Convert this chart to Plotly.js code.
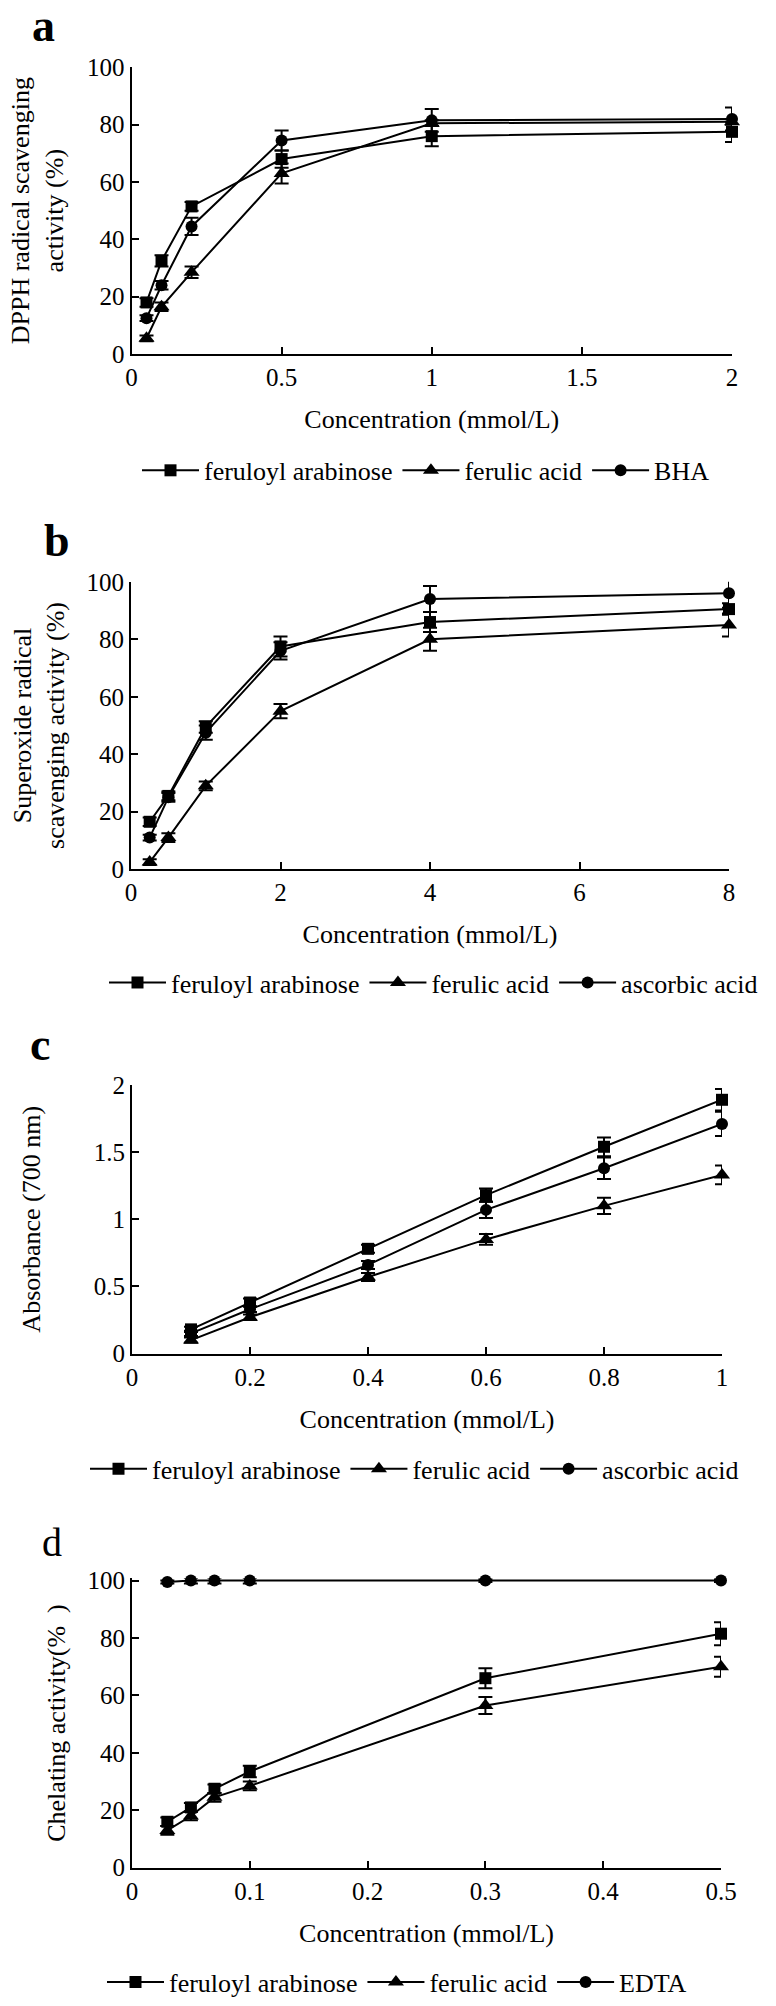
<!DOCTYPE html>
<html>
<head>
<meta charset="utf-8">
<script src="https://cdn.plot.ly/plotly-3.0.1.min.js"></script>
<style>html,body{margin:0;padding:0;background:#fff;}#chart{width:776px;height:2006px;}</style>
</head>
<body>
<div id="chart"></div>
<script>
// ---------- DATA ----------
// Panel a: DPPH radical scavenging
const xA = [0.05, 0.1, 0.2, 0.5, 1, 2];
const faA = [18, 32.5, 51.5, 68, 76, 77.5];
const faAErr = [1.5, 2, 1.5, 3, 3.5, 3.5];
const ferA = [5.5, 16.5, 28.5, 63, 80.5, 81];
const ferAErr = [1, 1.5, 2, 3.5, 1, 1];
const bhaA = [12.5, 24, 44.5, 74.5, 81.5, 82];
const bhaAErr = [1, 1.5, 3, 3.5, 4, 4];

// Panel b: Superoxide radical scavenging
const xB = [0.25, 0.5, 1, 2, 4, 8];
const faB = [16.5, 25.5, 49.5, 77.5, 86, 90.5];
const faBErr = [1.5, 1.5, 2, 3.5, 3.5, 2];
const ferB = [2.5, 11, 29, 55, 80, 85];
const ferBErr = [1, 1.5, 1.5, 2.5, 4, 4];
const ascB = [11, 25, 47.5, 76, 94, 96];
const ascBErr = [1, 1.5, 2.5, 3, 4.5, 5];

// Panel c: Reducing power (absorbance 700 nm)
const xC = [0.1, 0.2, 0.4, 0.6, 0.8, 1];
const faC = [0.18, 0.38, 0.78, 1.18, 1.54, 1.89];
const faCErr = [0.02, 0.03, 0.03, 0.05, 0.07, 0.08];
const ferC = [0.1, 0.27, 0.57, 0.85, 1.1, 1.33];
const ferCErr = [0.02, 0.02, 0.03, 0.04, 0.06, 0.07];
const ascC = [0.15, 0.33, 0.66, 1.07, 1.38, 1.71];
const ascCErr = [0.02, 0.02, 0.03, 0.06, 0.08, 0.09];

// Panel d: Chelating activity
const xD = [0.03, 0.05, 0.07, 0.1, 0.3, 0.5];
const faD = [16, 21, 27.5, 33.5, 66, 81.5];
const faDErr = [1.5, 1.5, 1.5, 2, 3.5, 4];
const ferD = [13, 18, 24.5, 28.5, 56.5, 70];
const ferDErr = [1.5, 1.5, 1.5, 1.5, 3, 3.5];
const edtaD = [99.5, 100, 100, 100, 100, 100];
const edtaDErr = [0.5, 1, 1, 1, 0.5, 0.5];

const nameFA = "feruloyl arabinose";
const nameFer = "ferulic acid";
const nameBHA = "BHA";
const nameAsc = "ascorbic acid";
const nameEDTA = "EDTA";

// ---------- STYLE / LAYOUT ----------
const W = 776, H = 2006;
const FONT = "Liberation Serif, serif";
const px2x = p => p / W;
const px2y = p => 1 - p / H;

function tr(x, y, err, name, symbol, size, xa, ya, leg) {
  return {
    type: "scatter", mode: "lines+markers", x: x, y: y, name: name,
    xaxis: xa, yaxis: ya, legend: leg, cliponaxis: false,
    line: {color: "#000", width: 2},
    marker: {symbol: symbol, size: size, color: "#000"},
    error_y: {type: "data", array: err, visible: true, color: "#000", thickness: 2, width: 7}
  };
}

const traces = [
  tr(xA, faA, faAErr, nameFA, "square", 12, "x", "y", "legend"),
  tr(xA, ferA, ferAErr, nameFer, "triangle-up", 14, "x", "y", "legend"),
  tr(xA, bhaA, bhaAErr, nameBHA, "circle", 12, "x", "y", "legend"),
  tr(xB, faB, faBErr, nameFA, "square", 12, "x2", "y2", "legend2"),
  tr(xB, ferB, ferBErr, nameFer, "triangle-up", 14, "x2", "y2", "legend2"),
  tr(xB, ascB, ascBErr, nameAsc, "circle", 12, "x2", "y2", "legend2"),
  tr(xC, faC, faCErr, nameFA, "square", 12, "x3", "y3", "legend3"),
  tr(xC, ferC, ferCErr, nameFer, "triangle-up", 14, "x3", "y3", "legend3"),
  tr(xC, ascC, ascCErr, nameAsc, "circle", 12, "x3", "y3", "legend3"),
  tr(xD, faD, faDErr, nameFA, "square", 12, "x4", "y4", "legend4"),
  tr(xD, ferD, ferDErr, nameFer, "triangle-up", 14, "x4", "y4", "legend4"),
  tr(xD, edtaD, edtaDErr, nameEDTA, "circle", 12, "x4", "y4", "legend4")
];

function xax(dom, range, dtick, anchor) {
  return {
    domain: [px2x(dom[0]), px2x(dom[1])], range: range, dtick: dtick, tick0: 0,
    anchor: anchor, showgrid: false, zeroline: false, showline: true,
    linecolor: "#000", linewidth: 2, ticks: "inside", ticklen: 7, tickwidth: 2, tickcolor: "#000",
    tickfont: {family: FONT, size: 25, color: "#000"},
    title: {text: "Concentration (mmol/L)", font: {family: FONT, size: 26, color: "#000"}, standoff: 20}
  };
}
function yax(dom, range, dtick, anchor, title, standoff) {
  return {
    domain: [px2y(dom[1]), px2y(dom[0])], range: range, dtick: dtick, tick0: 0,
    anchor: anchor, showgrid: false, zeroline: false, showline: true,
    linecolor: "#000", linewidth: 2, ticks: "inside", ticklen: 7, tickwidth: 2, tickcolor: "#000",
    tickfont: {family: FONT, size: 25, color: "#000"},
    title: {text: title, font: {family: FONT, size: 26, color: "#000"}, standoff: standoff}
  };
}
function leg(xpx, ypx) {
  return {
    orientation: "h", x: px2x(xpx), y: px2y(ypx), xanchor: "left", yanchor: "middle",
    font: {family: FONT, size: 26, color: "#000"}, bgcolor: "rgba(0,0,0,0)",
    itemwidth: 57, tracegroupgap: 0
  };
}
function letter(text, xpx, ypx, bold) {
  return {
    text: bold ? "<b>" + text + "</b>" : text, xref: "paper", yref: "paper",
    x: px2x(xpx), y: px2y(ypx), xanchor: "left", yanchor: "middle", showarrow: false,
    font: {family: FONT, size: bold ? 46 : 40, color: "#000"}
  };
}

const layout = {
  width: W, height: H, margin: {l: 0, r: 0, t: 0, b: 0},
  paper_bgcolor: "#fff", plot_bgcolor: "#fff",
  font: {family: FONT, color: "#000"},
  xaxis: xax([131.5, 732], [0, 2], 0.5, "y"),
  yaxis: yax([67.7, 356], [0, 100], 20, "x", "DPPH radical scavenging<br>activity (%)", 16),
  xaxis2: xax([131, 729], [0, 8], 2, "y2"),
  yaxis2: yax([585, 874], [0, 100], 20, "x2", "Superoxide radical<br>scavenging activity (%)", 14),
  xaxis3: xax([132, 722], [0, 1], 0.2, "y3"),
  yaxis3: yax([1091, 1361], [0, 2], 0.5, "x3", "Absorbance (700 nm)", 46),
  xaxis4: xax([132, 721], [0, 0.5], 0.1, "y4"),
  yaxis4: yax([1587, 1878], [0, 100.8], 20, "x4", "Chelating activity(%  )", 14),
  legend: leg(137, 473),
  legend2: leg(104, 988),
  legend3: leg(85, 1477),
  legend4: leg(102, 1993),
  showlegend: true,
  annotations: [
    letter("a", 30, 26, true),
    letter("b", 42, 543, true),
    letter("c", 28, 1050, true),
    letter("d", 40, 1551, false)
  ]
};

Plotly.newPlot("chart", traces, layout, {displayModeBar: false, staticPlot: true});
</script>
</body>
</html>
